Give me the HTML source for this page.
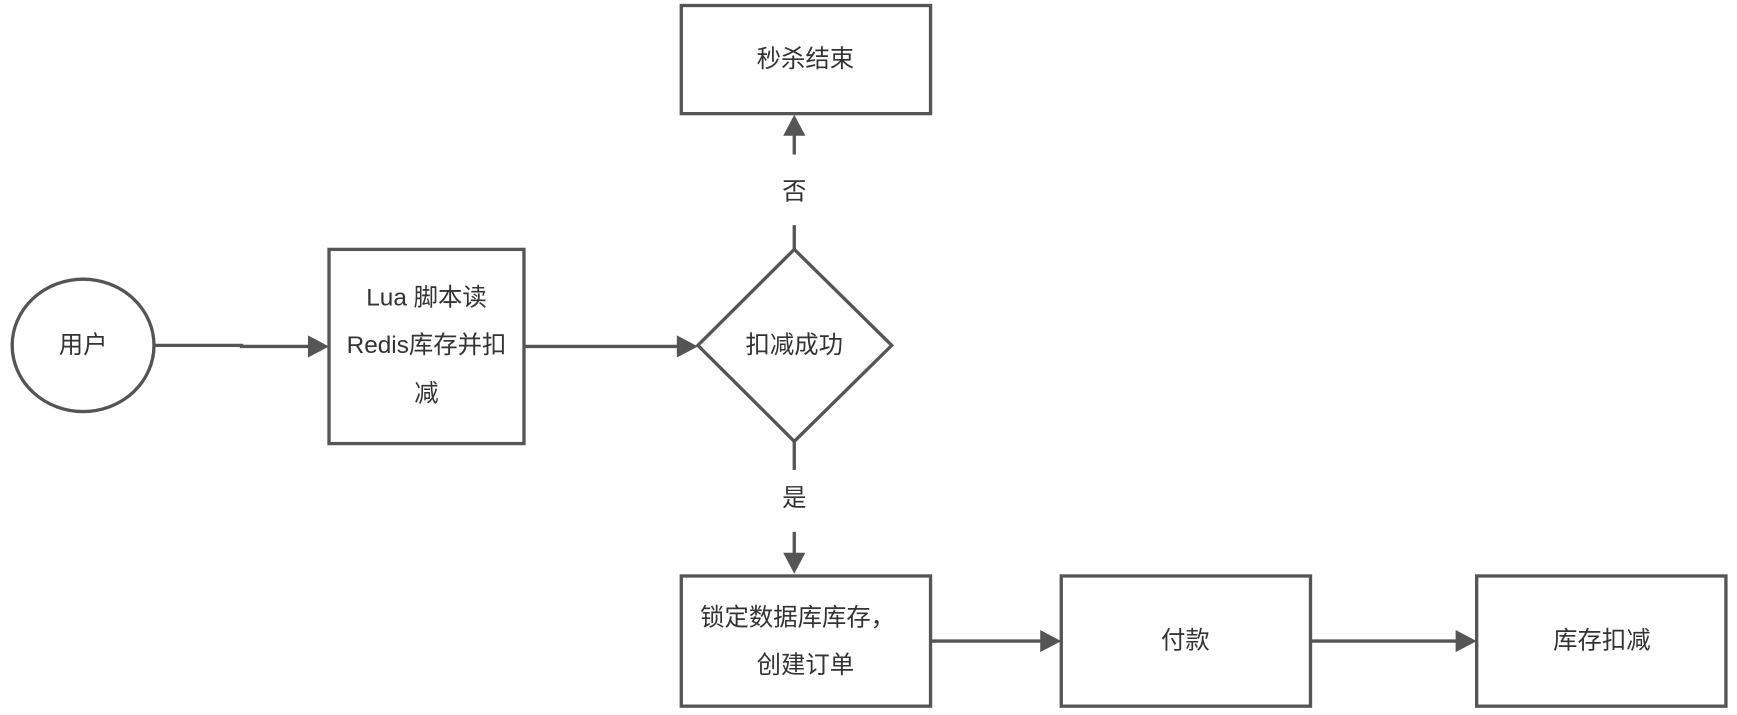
<!DOCTYPE html>
<html><head><meta charset="utf-8"><style>html,body{margin:0;padding:0;background:#fff;overflow:hidden}svg{display:block}text{font-family:"Liberation Sans","Noto Sans CJK SC",sans-serif;font-size:22px;fill:#333;text-anchor:middle;dominant-baseline:central}</style></head>
<body>
<svg width="1737" height="715" viewBox="0 0 1568 648" preserveAspectRatio="none">
<defs><marker id="a" markerWidth="10" markerHeight="10" refX="9" refY="5" orient="auto" markerUnits="userSpaceOnUse"><path d="M0,0 L18,5 L0,10z" transform="scale(1)"/></marker></defs>
<g stroke="#555" stroke-width="3" fill="none">
<ellipse cx="75" cy="313" rx="64" ry="60"/>
<rect x="297" y="226" width="176" height="176"/>
<polygon points="717,226 805,313 717,400 630,313"/>
<rect x="615" y="5" width="225" height="98"/>
<rect x="615" y="522" width="225" height="118"/>
<rect x="958" y="522" width="225" height="118"/>
<rect x="1333" y="522" width="225" height="118"/>
<path d="M140,313 H218 V314 H280"/>
<path d="M473,314 H612"/>
<path d="M717,226 V204 M717,140 V122"/>
<path d="M717,400 V426 M717,482 V502"/>
<path d="M840,581 H940"/>
<path d="M1183,581 H1315"/>
</g>
<g fill="#555">
<polygon points="297,314 278,304 278,324"/>
<polygon points="630,314 611,304 611,324"/>
<polygon points="717,104 707,123 727,123"/>
<polygon points="717,520 707,501 727,501"/>
<polygon points="958,581 939,571 939,591"/>
<polygon points="1333,581 1314,571 1314,591"/>
</g>
<text x="75" y="313">用户</text>
<text x="385" y="270">Lua 脚本读</text>
<text x="385" y="313">Redis库存并扣</text>
<text x="385" y="357">减</text>
<text x="717" y="313">扣减成功</text>
<text x="727" y="54">秒杀结束</text>
<text x="717" y="174">否</text>
<text x="717" y="452">是</text>
<text x="720" y="560">锁定数据库库存，</text>
<text x="727" y="603">创建订单</text>
<text x="1070" y="581">付款</text>
<text x="1446" y="581">库存扣减</text>
</svg>
</body></html>
